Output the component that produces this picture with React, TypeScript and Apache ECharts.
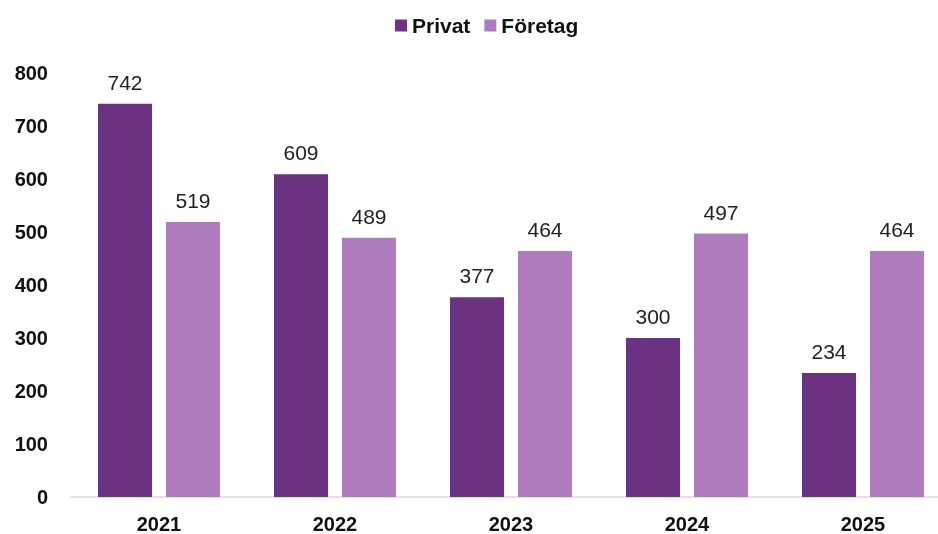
import React, { useEffect, useRef } from "react";
import * as echarts from "echarts";

const categories = ["2021", "2022", "2023", "2024", "2025"];
const privat = [742, 609, 377, 300, 234];
const foretag = [519, 489, 464, 497, 464];
const yTicks = [0, 100, 200, 300, 400, 500, 600, 700, 800];

const FONT = "'Liberation Sans', Arial, sans-serif";

export default function App() {
  const ref = useRef<HTMLDivElement>(null);
  useEffect(() => {
    if (!ref.current) return;
    const chart = echarts.init(ref.current, undefined, { renderer: "svg" });
    const labelStyle = {
      show: true,
      position: "top" as const,
      distance: 11,
      color: "#222",
      fontSize: 21,
      fontFamily: FONT,
    };
    chart.setOption({
      animation: false,
      textStyle: { fontFamily: FONT },
      legend: {
        top: 10,
        left: 390,
        itemWidth: 12,
        itemHeight: 12,
        itemGap: 14,
        icon: "rect",
        textStyle: { fontSize: 21, fontWeight: "bold", color: "#111", fontFamily: FONT },
        data: ["Privat", "Företag"],
      },
      grid: { left: 71, top: 73, right: 0, bottom: 36, containLabel: false },
      xAxis: {
        type: "category",
        data: categories,
        axisTick: { show: false },
        axisLine: { lineStyle: { color: "#d9d9d9", width: 1.5 } },
        axisLabel: { fontSize: 20, fontWeight: "bold", color: "#111", margin: 17, fontFamily: FONT },
      },
      yAxis: {
        type: "value",
        min: yTicks[0],
        max: yTicks[yTicks.length - 1],
        interval: 100,
        splitLine: { show: false },
        axisLine: { show: false },
        axisTick: { show: false },
        axisLabel: { fontSize: 20, fontWeight: "bold", color: "#111", margin: 23, fontFamily: FONT },
      },
      series: [
        {
          name: "Privat",
          type: "bar",
          data: privat,
          barWidth: 54,
          barGap: "26%",
          itemStyle: { color: "#6C3180" },
          label: labelStyle,
        },
        {
          name: "Företag",
          type: "bar",
          data: foretag,
          barWidth: 54,
          itemStyle: { color: "#AF7BBF" },
          label: labelStyle,
        },
      ],
    });
    return () => chart.dispose();
  }, []);
  return (
    <div style={{ position: "fixed", left: 0, top: 0, width: 938, height: 534, overflow: "hidden" }}>
      <div ref={ref} style={{ width: 951, height: 534 }} />
    </div>
  );
}
